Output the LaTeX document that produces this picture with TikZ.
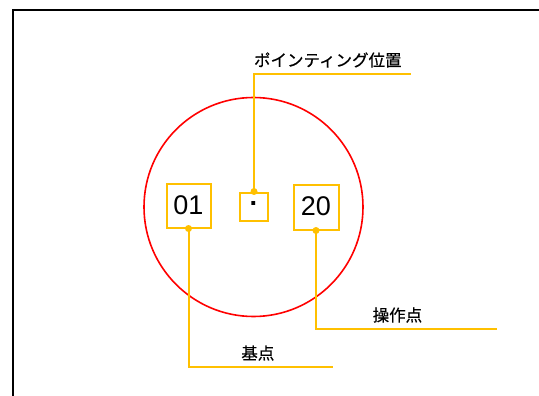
\documentclass[tikz,border=0pt]{standalone}
\usepackage{fontspec}
\setmainfont{Liberation Sans}
\newfontfamily\jpfont[FakeBold=0.5]{Noto Sans CJK JP}
\usetikzlibrary{arrows}
\definecolor{markyellow}{HTML}{FFC000}
\def\numsize{\fontsize{27}{27}\selectfont}
\def\lblsize{\jpfont\fontsize{16.5}{17}\selectfont}

\begin{document}
\begin{tikzpicture}[x=1pt,y=-1pt]
\useasboundingbox (0,0) rectangle (539,396);
\draw[line width=2pt] (13,397) -- (13,10) -- (540,10);
\draw[red,line width=1.6pt] (253.5,207) circle (109.5);
\draw[] (188.5,205.5) node[draw=markyellow,line width=2pt,minimum size=44pt,inner sep=0pt,text depth=1pt,font=\numsize] (base) {01};
\draw[] (254,206.5) node[draw=markyellow,line width=2pt,minimum size=28pt,inner sep=0pt,font=\numsize\bfseries] (point) {·};
\draw[] (316,207) node[draw=markyellow,line width=2pt,minimum size=45pt,inner sep=0pt,text depth=1pt,font=\numsize] (oper) {20};
\coordinate (pcorner) at (254,74);
\coordinate (pend) at (411,74);
\coordinate (ocorner) at (316,329);
\coordinate (oend) at (497,329);
\coordinate (bcorner) at (188.5,367);
\coordinate (bend) at (333,367);
\draw[markyellow,line width=2pt] (point.north) -- (pcorner) -- (pend) node[pos=0.47,above=2pt,black,font=\lblsize] (plabel) {ポインティング位置};
\draw[markyellow,line width=2pt] (oper.south) -- (ocorner) -- (oend) node[pos=0.45,above=2pt,black,font=\lblsize] (olabel) {操作点};
\draw[markyellow,line width=2pt] (base.south) -- (bcorner) -- (bend) node[pos=0.48,above=2pt,black,font=\lblsize] (blabel) {基点};
\fill[markyellow] (point.north) circle (3.5);
\fill[markyellow] (oper.south) circle (3.5);
\fill[markyellow] (base.south) circle (3.5);
\end{tikzpicture}
\end{document}
